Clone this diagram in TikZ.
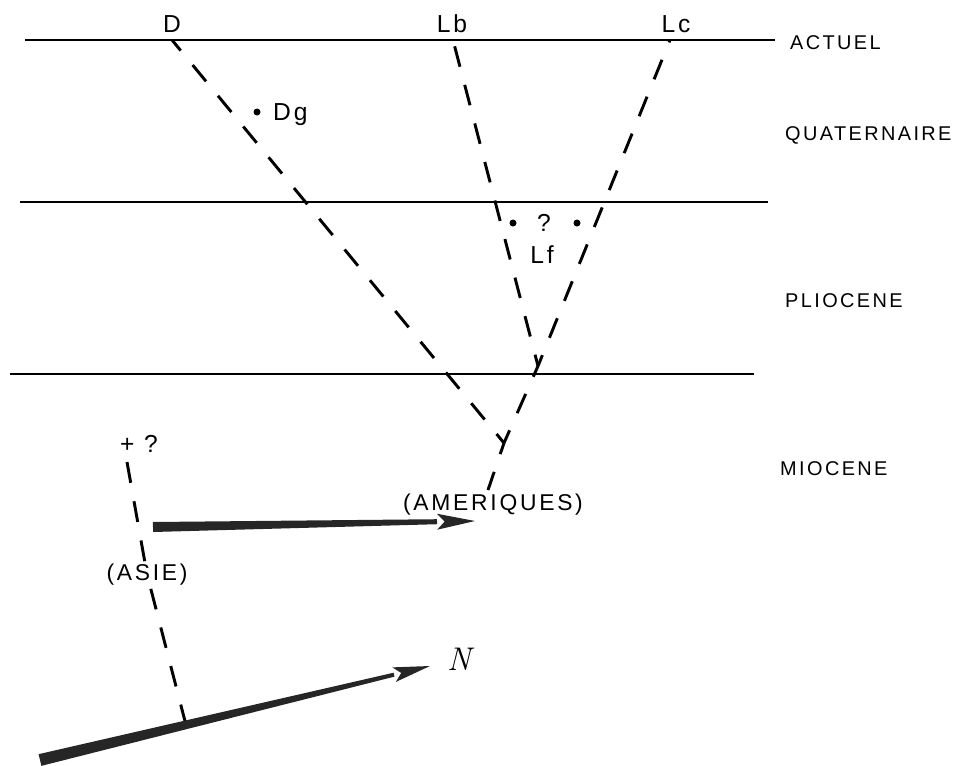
\documentclass[tikz,border=0pt]{standalone}
\usepackage{fontspec}
\newfontfamily\letterfont[LetterSpace=12]{Liberation Sans}
\usetikzlibrary{calc}

% tapered filled arrow: start, tip, start half width, end half width, head length, head half width
\newcommand{\taperarrow}[6]{%
  \coordinate (tb) at ($(#2)!#5!(#1)$);
  \fill[arrowfill] ($(#1)!#3!90:(#2)$) -- ($(tb)!#4!-90:(#1)$) -- ($(tb)!#4!90:(#1)$) -- ($(#1)!#3!-90:(#2)$) -- cycle;
  \fill[arrowfill] (#2) -- ($(tb)!#6!-90:(#1)$) -- ($(tb)!0.2!(#2)$) -- ($(tb)!#6!90:(#1)$) -- cycle;
}

\begin{document}
\begin{tikzpicture}[
x=0.3mm, y=-0.3mm,
period/.style={font=\letterfont\fontsize{17}{19}\selectfont, anchor=base west, inner sep=0pt},
tag/.style={font=\letterfont\fontsize{21}{23}\selectfont, anchor=base, inner sep=0pt},
region/.style={font=\letterfont\fontsize{19.5}{21}\selectfont, anchor=base, inner sep=0pt},
level/.style={line width=1.7pt},
lineage/.style={line width=2.5pt, dash pattern=on 18pt off 16pt},
fromfork/.style={lineage, dash phase=8pt},
dot/.style={circle, fill, inner sep=0pt, minimum size=2.1mm},
arrowfill/.style={fill=black!85}
]
\useasboundingbox (0,0) rectangle (957,765);

% time levels
\coordinate (actL) at (25,40);  \coordinate (actR) at (775,40);
\coordinate (quaL) at (20,202); \coordinate (quaR) at (768,202);
\coordinate (pliL) at (10,374); \coordinate (pliR) at (754,374);
\draw[level] (actL) -- (actR);
\draw[level] (quaL) -- (quaR);
\draw[level] (pliL) -- (pliR);

\node[period] (actuel) at (790,49) {ACTUEL};
\node[period] (quaternaire) at (785,140) {QUATERNAIRE};
\node[period] (pliocene) at (785,307) {PLIOCENE};
\node[period] (miocene) at (780,475) {MIOCENE};

% lineages
\node[tag] (d) at (172,32) {D};
\node[tag] (lb) at (452,32) {Lb};
\node[tag] (lc) at (676,32) {Lc};
\coordinate (dTop) at (172,40);
\coordinate (lbTop) at (453,40);
\coordinate (lcTop) at (670,40);
\coordinate (jUp) at (538,366);
\coordinate (jLow) at (504,443);
\coordinate (jEnd) at (488,490);

\draw[fromfork] (jLow) -- (dTop);
\draw[fromfork] (jUp) -- (lbTop);
\draw[fromfork] (jUp) -- (lcTop);
\draw[fromfork] (jUp) -- (jLow);
\draw[fromfork] (jLow) -- (jEnd);

\node[dot] (dgDot) at (257,112) {};
\node[tag, anchor=base west] (dg) at (273,120) {Dg};
\node[dot] (lfLeft) at (513,223) {};
\node[dot] (lfRight) at (577,223) {};
\node[tag] (lfQ) at (544,231) {?};
\node[tag] (lf) at (542,263) {Lf};

% migration
\node[tag] (plusQ) at (139,452) {+ ?};
\node[region] (amer) at (493,510) {(AMERIQUES)};
\node[region] (asie) at (147,580) {(ASIE)};
\coordinate (asTop) at (127,462);
\coordinate (asBot) at (186,725);
\draw[lineage] (asTop) -- (asie);
\draw[lineage] (asBot) -- (asie);

\coordinate (ameS) at (153,527);
\coordinate (ameT) at (475,521);
\taperarrow{ameS}{ameT}{1.5mm}{0.75mm}{11.4mm}{2.4mm}

\coordinate (nS) at (40,760);
\coordinate (nT) at (430,666);
\taperarrow{nS}{nT}{1.8mm}{0.6mm}{11.1mm}{2.25mm}
\node[font=\itshape\fontsize{28}{30}\selectfont, anchor=base, inner sep=0pt] (n) at (459,670) {N};

\end{tikzpicture}
\end{document}
